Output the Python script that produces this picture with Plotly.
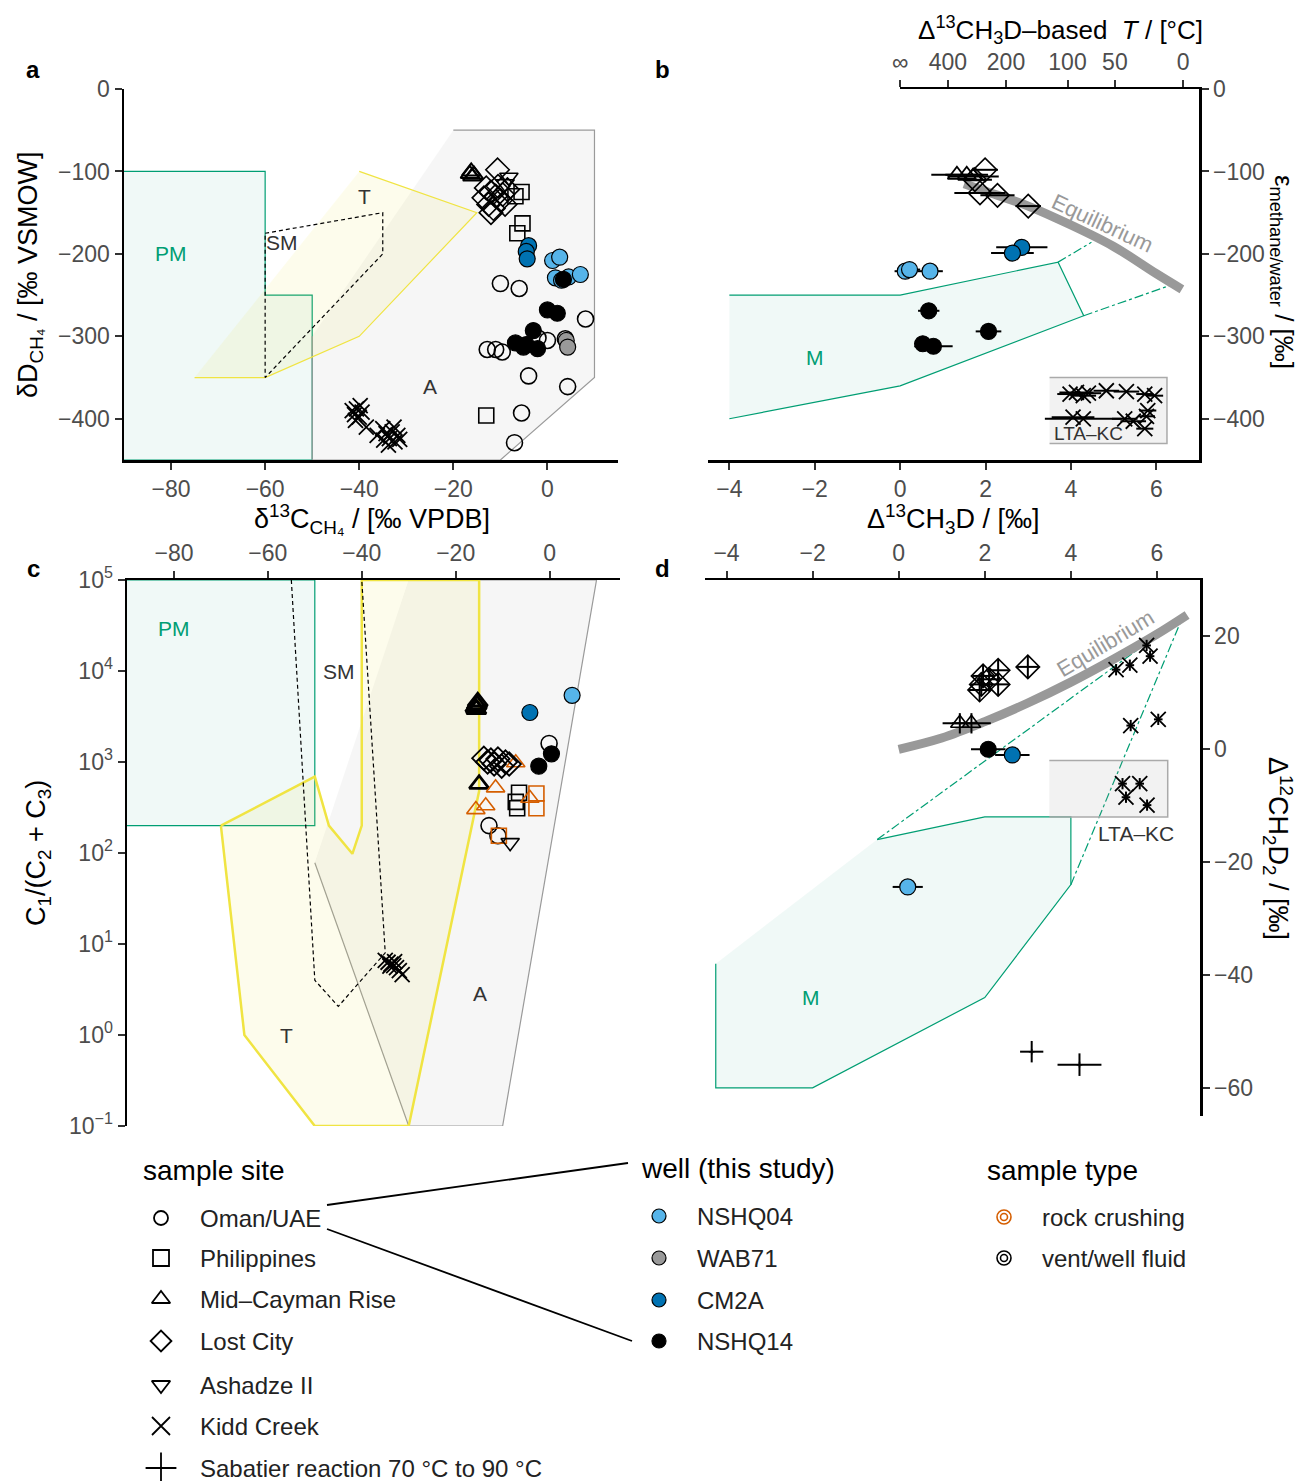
import plotly.graph_objects as go

W, H = 1309, 1481
FONT = "Liberation Sans, Arial, Helvetica, sans-serif"
GREEN = "#009E73"
YELLOW = "#F0E442"
ORANGE = "#D55E00"
C_NSHQ04 = "#56B4E9"
C_WAB71 = "#999999"
C_CM2A = "#0072B2"
C_NSHQ14 = "#000000"
TICKCOL = "#4D4D4D"

# ================= DATA =================
# ---- panel a : d13C (x) vs dD (y) ----
a_oman_x = [-10.0, -6.0, -12.8, -11.0, -9.6, 0.0, 8.1, -4.0, 4.3, -5.5, -7.0, 3.8, -2.0]
a_oman_y = [-236, -242, -316, -316, -319, -305, -279, -348, -361, -393, -429, -303, -302]
a_phil_x = [-5.5, -6.8, -5.3, -6.4, -13.0]
a_phil_y = [-125, -130, -163, -175, -396]
a_mcr_x = [-16.5, -16.0, -15.6, -16.2]
a_mcr_y = [-103, -106, -104, -100]
a_lc_x = [-10.6, -13.0, -12.0, -11.0, -12.5, -11.5, -10.0, -9.5, -13.5, -10.5, -8.5, -12.0, -9.0]
a_lc_y = [-98, -120, -125, -130, -140, -145, -135, -128, -132, -118, -122, -150, -140]
a_ash_x = [-8.2, -9.0]
a_ash_y = [-107, -115]
a_kc_x = [-41.5, -41.0, -40.6, -40.0, -39.4, -40.8, -39.8, -38.5, -36.2, -35.0, -34.3, -33.6,
          -33.0, -32.4, -31.8, -33.8, -32.6, -31.4, -34.8]
a_kc_y = [-390, -395, -388, -398, -392, -402, -384, -410, -420, -412, -418, -424,
          -416, -428, -420, -432, -410, -425, -426]
a_nshq04_x = [1.1, 2.6, 1.7, 4.5, 7.0, 3.0]
a_nshq04_y = [-208, -204, -229, -228, -225, -232]
a_cm2a_x = [-4.0, -4.5, -4.3]
a_cm2a_y = [-190, -197, -206]
a_wab71_x = [4.0, 4.3]
a_wab71_y = [-305, -313]
a_nshq14_x = [3.4, 0.0, 2.1, -3.0, -6.8, -5.1, -2.1, -4.5]
a_nshq14_y = [-231, -268, -272, -293, -308, -313, -315, -310]

# fields in panel a
a_pm_x = [-90, -60, -60, -50, -50, -90]
a_pm_y = [-100, -100, -250, -250, -450, -450]
a_a_x = [-20, 10, 10, -10, -50, -50]
a_a_y = [-50, -50, -350, -450, -450, -300]
a_t_x = [-75, -60, -40, -15, -40]
a_t_y = [-350, -350, -300, -150, -100]
a_sm_x = [-60, -35, -35, -60, -60]
a_sm_y = [-175, -150, -200, -350, -175]

# ---- panel b : D13CH3D (x) vs eps methane/water (y) ----
b_mcr_x = [1.33, 1.56, 1.71]
b_mcr_y = [-104, -104, -106]
b_mcr_e = [0.6, 0.5, 0.6]
b_lc_x = [1.99, 1.75, 1.87, 2.28, 3.0]
b_lc_y = [-98, -110, -126, -129, -142]
b_lc_e = [0.3, 0.4, 0.6, 0.4, 0.3]
b_cm2a_x = [2.85, 2.63]
b_cm2a_y = [-192, -199]
b_cm2a_e = [0.6, 0.5]
b_nshq04_x = [0.12, 0.22, 0.70]
b_nshq04_y = [-221, -219, -221]
b_nshq04_e = [0.25, 0.25, 0.3]
b_nshq14_x = [0.67, 2.07, 0.53, 0.78]
b_nshq14_y = [-269, -294, -309, -312]
b_nshq14_e = [0.25, 0.3, 0.2, 0.45]
b_kc_x = [3.98, 4.13, 4.29, 4.41, 4.83, 5.30, 5.73, 5.96, 4.05, 4.29, 5.26, 5.46, 5.77, 5.80, 5.73]
b_kc_y = [-370, -368, -372, -369, -366, -367, -370, -372, -398, -400, -400, -403, -397, -390, -412]
b_kc_e = [0.3, 0.4, 0.3, 0.3, 0.3, 0.3, 0.2, 0.2, 0.5, 0.9, 0.3, 0.3, 0.2, 0.2, 0.2]
b_eq_x = [1.5, 2.0, 3.0, 4.0, 5.0, 6.0, 6.6]
b_eq_y = [-115, -124, -142, -165, -191, -224, -243]
b_m_x = [-4, 0, 3.7, 4.3, 0, -4]
b_m_y = [-250, -250, -210, -275, -360, -400]
b_mix1_x = [3.7, 4.48]
b_mix1_y = [-210, -186]
b_mix2_x = [4.3, 6.39]
b_mix2_y = [-275, -237]
b_lta_x = [3.5, 6.25, 6.25, 3.5]
b_lta_y = [-430, -430, -350, -350]
T_tick_pos = [0, 1.12, 2.48, 3.92, 5.03, 6.63]
T_tick_lab = ["∞", "400", "200", "100", "50", "0"]

# ---- panel c : d13C (x) vs C1/(C2+C3) (y, log) ----
c_oman_x = [-0.1, -12.9, -11.0]
c_oman_y = [1600, 200, 155]
c_phil_x = [-6.5, -7.2, -6.9]
c_phil_y = [460, 365, 310]
c_phil_rc_x = [-2.8, -2.8, -10.8]
c_phil_rc_y = [450, 310, 155]
c_mcr_x = [-15.8, -15.5, -15.3, -15.6, -15.0]
c_mcr_y = [4000, 4300, 4600, 3800, 570]
c_mcr_rc_x = [-7.2, -11.5, -4.2, -13.6, -15.7]
c_mcr_rc_y = [980, 520, 400, 330, 300]
c_lc_x = [-14.0, -13.2, -12.5, -11.8, -11.0, -10.2, -9.4, -8.6]
c_lc_y = [1100, 1000, 1050, 950, 1080, 900, 1000, 950]
c_ash_x = [-8.4]
c_ash_y = [130]
c_kc_x = [-35.0, -34.4, -33.8, -33.2, -32.6, -32.0, -31.4, -34.0, -33.0]
c_kc_y = [6.6, 6.3, 6.0, 5.8, 5.5, 5.1, 4.6, 5.7, 6.4]
c_nshq04_x = [4.8]
c_nshq04_y = [5400]
c_cm2a_x = [-4.2]
c_cm2a_y = [3500]
c_nshq14_x = [0.4, -2.3]
c_nshq14_y = [1230, 900]
c_pm_x = [-90, -50, -50, -90]
c_pm_y = [200, 200, 1e5, 1e5]
c_a_x = [-30, 10, -10, -30, -50]
c_a_y = [1e5, 1e5, 0.1, 0.1, 78]
c_t_x = [-70, -50, -47, -42, -40, -40, -15, -15, -30, -50, -65, -70]
c_t_y = [200, 690, 200, 98, 200, 1e5, 1e5, 480, 0.1, 0.1, 1, 200]
c_sm_x = [-55, -50, -45, -35, -40]
c_sm_y = [1e5, 4.0, 2.06, 8.0, 1e5]

# ---- panel d : D13CH3D (x) vs D12CH2D2 (y) ----
d_kc_x = [5.76, 5.84, 5.37, 5.05, 6.03, 5.39, 5.2, 5.6, 5.28, 5.77]
d_kc_y = [18.4, 16.5, 14.9, 14.1, 5.3, 4.2, -6.1, -6.1, -8.5, -9.9]
d_lc_x = [3.0, 2.31, 2.31, 1.92, 1.96, 1.88, 2.1]
d_lc_y = [14.6, 14.0, 11.5, 11.5, 13.0, 10.5, 12.4]
d_mcr_x = [1.42, 1.69]
d_mcr_y = [4.6, 4.6]
d_mcr_ex = [0.4, 0.45]
d_nshq14_x = [2.08]
d_nshq14_y = [0.0]
d_cm2a_x = [2.64]
d_cm2a_y = [-1.0]
d_nshq04_x = [0.21]
d_nshq04_y = [-24.4]
d_sab_x = [3.09, 4.2]
d_sab_y = [-53.6, -55.9]
d_sab_ex = [0.27, 0.51]
d_sab_ey = [1.9, 2.0]
d_eq_x = [0, 1, 2, 3, 4, 5, 6, 6.7]
d_eq_y = [0, 2.0, 4.9, 8.2, 11.9, 16.0, 20.4, 23.8]
d_m_x = [-4.25, -4.25, -2, 2, 4, 4, 2, -0.5]
d_m_y = [-38, -60, -60, -44, -24, -12, -12, -16]
d_mix1_x = [-0.5, 6.6]
d_mix1_y = [-16, 23.5]
d_mix2_x = [4.0, 6.6]
d_mix2_y = [-24, 23.5]
d_lta_x = [3.5, 6.25, 6.25, 3.5]
d_lta_y = [-12, -12, -2, -2]

# legend
site_labels = ["Oman/UAE", "Philippines", "Mid–Cayman Rise", "Lost City", "Ashadze II",
               "Kidd Creek", "Sabatier reaction 70 °C to 90 °C"]
site_symbols = ["circle-open", "square-open", "triangle-up-open", "diamond-open",
                "triangle-down-open", "x-thin-open", "cross-thin-open"]
well_labels = ["NSHQ04", "WAB71", "CM2A", "NSHQ14"]
well_colors = [C_NSHQ04, C_WAB71, C_CM2A, C_NSHQ14]
type_labels = ["rock crushing", "vent/well fluid"]
type_colors = [ORANGE, "#000000"]

# ================= FIGURE =================
fig = go.Figure()


def poly(xs, ys, ax, fillc, linec, lw, dash="solid"):
    fig.add_trace(go.Scatter(x=xs, y=ys, xaxis=ax[0], yaxis=ax[1], mode="lines",
                             fill="toself" if fillc else None, fillcolor=fillc,
                             line=dict(color=linec, width=lw, dash=dash),
                             hoverinfo="skip", showlegend=False))


def line(xs, ys, ax, color, lw, dash="solid", shape="linear"):
    fig.add_trace(go.Scatter(x=xs, y=ys, xaxis=ax[0], yaxis=ax[1], mode="lines",
                             line=dict(color=color, width=lw, dash=dash, shape=shape),
                             hoverinfo="skip", showlegend=False))


def pts(xs, ys, ax, symbol, size, color, fill=None, lw=1.6, ex=None, ey=None):
    if fill is not None:
        marker = dict(symbol=symbol, size=size, color=fill, line=dict(color=color, width=lw))
    else:
        marker = dict(symbol=symbol, size=size, color=color, line=dict(color=color, width=lw))
    kw = {}
    if ex is not None:
        kw["error_x"] = dict(type="data", array=ex, color="black", thickness=2, width=0)
    if ey is not None:
        kw["error_y"] = dict(type="data", array=ey, color="black", thickness=2, width=0)
    fig.add_trace(go.Scatter(x=xs, y=ys, xaxis=ax[0], yaxis=ax[1], mode="markers",
                             marker=marker, hoverinfo="skip", showlegend=False, **kw))


A = ("x", "y")
B = ("x2", "y2")
C = ("x3", "y3")
D = ("x4", "y4")

# ---- panel a ----
poly(a_pm_x, a_pm_y, A, "rgba(0,158,115,0.06)", GREEN, 1.2)
poly(a_a_x, a_a_y, A, "rgba(150,150,150,0.09)", "#9a9a9a", 1.2)
poly(a_t_x, a_t_y, A, "rgba(240,228,66,0.10)", YELLOW, 1.2)
poly(a_sm_x, a_sm_y, A, None, "black", 1.2, dash="4px,3px")
pts(a_kc_x, a_kc_y, A, "x-thin-open", 15, "black", lw=1.8)
pts(a_oman_x, a_oman_y, A, "circle-open", 16, "black")
pts(a_phil_x, a_phil_y, A, "square-open", 15, "black")
pts(a_mcr_x, a_mcr_y, A, "triangle-up-open", 16, "black", lw=2)
pts(a_lc_x, a_lc_y, A, "diamond-open", 18, "black")
pts(a_ash_x, a_ash_y, A, "triangle-down-open", 16, "black")
pts(a_wab71_x, a_wab71_y, A, "circle", 16, "black", fill=C_WAB71, lw=1.2)
pts(a_cm2a_x, a_cm2a_y, A, "circle", 16, "black", fill=C_CM2A, lw=1.2)
pts(a_nshq04_x, a_nshq04_y, A, "circle", 16, "black", fill=C_NSHQ04, lw=1.2)
pts(a_nshq14_x, a_nshq14_y, A, "circle", 16, "black", fill=C_NSHQ14, lw=1.2)

# ---- panel b ----
poly(b_m_x, b_m_y, B, "rgba(0,158,115,0.06)", GREEN, 1.2)
line(b_mix1_x, b_mix1_y, B, GREEN, 1.2, dash="dashdot")
line(b_mix2_x, b_mix2_y, B, GREEN, 1.2, dash="dashdot")
poly(b_lta_x, b_lta_y, B, "rgba(150,150,150,0.12)", "#aaaaaa", 1.5)
line(b_eq_x, b_eq_y, B, "#999999", 9, shape="spline")
pts(b_kc_x, b_kc_y, B, "x-thin-open", 15, "black", lw=1.8, ex=b_kc_e)
pts(b_mcr_x, b_mcr_y, B, "triangle-up-open", 16, "black", lw=1.8, ex=b_mcr_e)
pts(b_lc_x, b_lc_y, B, "diamond-open", 18, "black", ex=b_lc_e)
pts(b_cm2a_x, b_cm2a_y, B, "circle", 16, "black", fill=C_CM2A, lw=1.2, ex=b_cm2a_e)
pts(b_nshq04_x, b_nshq04_y, B, "circle", 16, "black", fill=C_NSHQ04, lw=1.2, ex=b_nshq04_e)
pts(b_nshq14_x, b_nshq14_y, B, "circle", 16, "black", fill=C_NSHQ14, lw=1.2, ex=b_nshq14_e)

# ---- panel c ----
poly(c_pm_x, c_pm_y, C, "rgba(0,158,115,0.06)", GREEN, 1.2)
poly(c_a_x, c_a_y, C, "rgba(150,150,150,0.09)", "#9a9a9a", 1.2)
poly(c_t_x, c_t_y, C, "rgba(240,228,66,0.10)", YELLOW, 2.5)
poly(c_sm_x, c_sm_y, C, None, "black", 1.2, dash="4px,3px")
pts(c_kc_x, c_kc_y, C, "x-thin-open", 15, "black", lw=1.8)
pts(c_oman_x, c_oman_y, C, "circle-open", 16, "black")
pts(c_phil_x, c_phil_y, C, "square-open", 15, "black")
pts(c_phil_rc_x, c_phil_rc_y, C, "square-open", 15, ORANGE)
pts(c_mcr_x, c_mcr_y, C, "triangle-up-open", 17, "black", lw=2.8)
pts(c_mcr_rc_x, c_mcr_rc_y, C, "triangle-up-open", 16, ORANGE)
pts(c_lc_x, c_lc_y, C, "diamond-open", 18, "black", lw=1.8)
pts(c_ash_x, c_ash_y, C, "triangle-down-open", 16, "black")
pts(c_cm2a_x, c_cm2a_y, C, "circle", 16, "black", fill=C_CM2A, lw=1.2)
pts(c_nshq04_x, c_nshq04_y, C, "circle", 16, "black", fill=C_NSHQ04, lw=1.2)
pts(c_nshq14_x, c_nshq14_y, C, "circle", 16, "black", fill=C_NSHQ14, lw=1.2)

# ---- panel d ----
poly(d_m_x, d_m_y, D, "rgba(0,158,115,0.06)", GREEN, 1.2)
line(d_mix1_x, d_mix1_y, D, GREEN, 1.2, dash="dashdot")
line(d_mix2_x, d_mix2_y, D, GREEN, 1.2, dash="dashdot")
poly(d_lta_x, d_lta_y, D, "rgba(150,150,150,0.12)", "#aaaaaa", 1.5)
line(d_eq_x, d_eq_y, D, "#999999", 9, shape="spline")
pts(d_kc_x, d_kc_y, D, "x-thin-open", 15, "black", lw=1.8,
    ex=[0.1] * len(d_kc_x), ey=[1.0] * len(d_kc_x))
pts(d_lc_x, d_lc_y, D, "diamond-open", 18, "black",
    ex=[0.25] * len(d_lc_x), ey=[2.0] * len(d_lc_x))
pts(d_mcr_x, d_mcr_y, D, "triangle-up-open", 16, "black", ex=d_mcr_ex, ey=[1.8, 1.8])
pts(d_nshq14_x, d_nshq14_y, D, "circle", 16, "black", fill=C_NSHQ14, lw=1.2, ex=[0.4])
pts(d_cm2a_x, d_cm2a_y, D, "circle", 16, "black", fill=C_CM2A, lw=1.2, ex=[0.4])
pts(d_nshq04_x, d_nshq04_y, D, "circle", 16, "black", fill=C_NSHQ04, lw=1.2, ex=[0.35])
pts(d_sab_x, d_sab_y, D, "cross-thin-open", 4, "black", lw=1.5, ex=d_sab_ex, ey=d_sab_ey)

# ---- top T axis of panel b (invisible carrier trace) ----
fig.add_trace(go.Scatter(x=[0], y=[0], xaxis="x5", yaxis="y2", mode="markers",
                         marker=dict(opacity=0), hoverinfo="skip", showlegend=False))

# ---- legend (pixel-coordinate helper axis) ----
LX = ("x6", "y6")
leg_site_y = [1218, 1258, 1299, 1341, 1385, 1426, 1468]
leg_well_y = [1216, 1258, 1300, 1341]
leg_type_y = [1217, 1258]
for sym, yy in zip(site_symbols, leg_site_y):
    sz = 14 if "circle" in sym else 16
    if sym == "cross-thin-open":
        sz = 22
    if sym.startswith("x-thin"):
        sz = 18
    pts([161], [yy], LX, sym, sz, "black", lw=1.8)
for col, yy in zip(well_colors, leg_well_y):
    pts([659], [yy], LX, "circle", 14, "black", fill=col, lw=1.2)
for col, yy in zip(type_colors, leg_type_y):
    pts([1004], [yy], LX, "circle-open", 14, col, lw=1.6)
    pts([1004], [yy], LX, "circle-open", 7, col, lw=1.6)

ax_common = dict(showgrid=False, zeroline=False, showline=True, linecolor="black",
                 linewidth=2.5, ticks="outside", ticklen=7, tickwidth=2, tickcolor="#333333",
                 tickfont=dict(size=23, color=TICKCOL, family=FONT), mirror=False,
                 automargin=False)


def px(v):
    return v / W


def py(v):
    return 1 - v / H


b_dom = [px(708), px(1199)]
b_zero = b_dom[0] + (0 - (-4.5)) / 11.5 * (b_dom[1] - b_dom[0])

fig.update_layout(
    template="none",
    width=W, height=H, margin=dict(l=0, r=0, t=0, b=0, pad=0, autoexpand=False),
    showlegend=False,
    paper_bgcolor="white", plot_bgcolor="rgba(0,0,0,0)",
    font=dict(family=FONT, color="black"),
    xaxis=dict(domain=[px(124), px(618)], range=[-90, 15], anchor="y",
               tickvals=[-80, -60, -40, -20, 0], **ax_common),
    yaxis=dict(domain=[py(460), py(89)], range=[-450, 0], anchor="x",
               tickvals=[-400, -300, -200, -100, 0], **ax_common),
    xaxis2=dict(domain=b_dom, range=[-4.5, 7], anchor="y2",
                tickvals=[-4, -2, 0, 2, 4, 6], **ax_common),
    yaxis2=dict(domain=[py(460), py(89)], range=[-450, 0], anchor="x2", side="right",
                tickvals=[-400, -300, -200, -100, 0], **ax_common),
    xaxis3=dict(domain=[px(127), px(620)], range=[-90, 15], anchor="y3", side="top",
                tickvals=[-80, -60, -40, -20, 0], **ax_common),
    yaxis3=dict(domain=[py(1126), py(580)], type="log", range=[-1, 5], anchor="x3",
                tickvals=[0.1, 1, 10, 100, 1000, 1e4, 1e5],
                ticktext=["10<sup>−1</sup>", "10<sup>0</sup>", "10<sup>1</sup>", "10<sup>2</sup>",
                          "10<sup>3</sup>", "10<sup>4</sup>", "10<sup>5</sup>"], **ax_common),
    xaxis4=dict(domain=[px(705), px(1200)], range=[-4.5, 7], anchor="y4", side="top",
                tickvals=[-4, -2, 0, 2, 4, 6], **ax_common),
    yaxis4=dict(domain=[py(1116), py(580)], range=[-65, 30], anchor="x4", side="right",
                tickvals=[-60, -40, -20, 0, 20], **ax_common),
    xaxis5=dict(domain=[b_zero, b_dom[1]], range=[0, 7], anchor="y2", side="top",
                tickvals=T_tick_pos, ticktext=T_tick_lab, **ax_common),
    xaxis6=dict(domain=[0, 1], range=[0, W], anchor="y6", visible=False, automargin=False),
    yaxis6=dict(domain=[0, py(1145)], range=[H, 1145], anchor="x6", visible=False,
                automargin=False),
)

ann = []


def txt(x, y, s, size=22, color="#333333", xref="paper", yref="paper", angle=0,
        xanchor="center", yanchor="middle", bold=False):
    if bold:
        s = "<b>" + s + "</b>"
    ann.append(dict(x=x, y=y, xref=xref, yref=yref, text=s, showarrow=False,
                    textangle=angle, xanchor=xanchor, yanchor=yanchor,
                    font=dict(size=size, color=color, family=FONT)))


# panel letters
txt(px(33), py(70), "a", 24, "black", bold=True)
txt(px(663), py(70), "b", 24, "black", bold=True)
txt(px(33), py(568), "c", 24, "black", bold=True)
txt(px(663), py(568), "d", 24, "black", bold=True)

# axis titles
txt(px(30), py(275), "δD<sub>CH₄</sub> / [‰ VSMOW]", 27, "black", angle=-90)
txt(px(372), py(519), "δ<sup>13</sup>C<sub>CH₄</sub> / [‰ VPDB]", 27, "black")
txt(px(953), py(519), "Δ<sup>13</sup>CH<sub>3</sub>D / [‰]", 27, "black")
txt(px(1060), py(30), "Δ<sup>13</sup>CH<sub>3</sub>D–based  <i>T</i> / [°C]", 26, "black")
txt(px(1283), py(272), "ε<sub>methane/water</sub> / [‰]", 26, "black", angle=90)
txt(px(38), py(853), "C<sub>1</sub>/(C<sub>2</sub> + C<sub>3</sub>)", 27, "black", angle=-90)
txt(px(1278), py(848), "Δ<sup>12</sup>CH<sub>2</sub>D<sub>2</sub> / [‰]", 27, "black", angle=90)

# field labels
txt(-80, -200, "PM", 21, GREEN, "x", "y")
txt(-56.4, -186, "SM", 21, "#333333", "x", "y")
txt(-38.9, -130, "T", 21, "#333333", "x", "y")
txt(-24.9, -361, "A", 21, "#333333", "x", "y")
txt(-80, 4.47, "PM", 21, GREEN, "x3", "y3")
txt(-44.9, 3.99, "SM", 21, "#333333", "x3", "y3")
txt(-56, 0.0, "T", 21, "#333333", "x3", "y3")
txt(-14.9, 0.46, "A", 21, "#333333", "x3", "y3")
txt(-2.0, -326, "M", 21, GREEN, "x2", "y2")
txt(3.55, -418, "LTA–KC", 19, "#333333", "x2", "y2", xanchor="left")
txt(4.75, -163, "Equilibrium", 22, "#999999", "x2", "y2", angle=25)
txt(-2.03, -44, "M", 21, GREEN, "x4", "y4")
txt(5.52, -15, "LTA–KC", 21, "#333333", "x4", "y4")
txt(4.8, 18.8, "Equilibrium", 22, "#999999", "x4", "y4", angle=-31)

# legend texts
txt(141, 1170, "sample site", 28, "black", "x6", "y6", xanchor="left")
for lab, yy in zip(site_labels, leg_site_y):
    txt(198, yy, lab, 24, "#222222", "x6", "y6", xanchor="left")
txt(639, 1168, "well (this study)", 28, "black", "x6", "y6", xanchor="left")
for lab, yy in zip(well_labels, leg_well_y):
    txt(695, yy, lab, 24, "#222222", "x6", "y6", xanchor="left")
txt(985, 1170, "sample type", 28, "black", "x6", "y6", xanchor="left")
for lab, yy in zip(type_labels, leg_type_y):
    txt(1040, yy, lab, 24, "#222222", "x6", "y6", xanchor="left")

fig.update_layout(annotations=ann)

fig.add_shape(type="line", xref="x6", yref="y6", x0=327, y0=1205, x1=628, y1=1163,
              line=dict(color="black", width=1.8))
fig.add_shape(type="line", xref="x6", yref="y6", x0=327, y0=1229, x1=632, y1=1341,
              line=dict(color="black", width=1.8))

# remove the browser's default body margin so the figure sits at the page origin
fig.write_html("out.html",
               config={"displayModeBar": False, "staticPlot": True},
               post_script="document.body.style.margin='0';document.body.style.padding='0';")
